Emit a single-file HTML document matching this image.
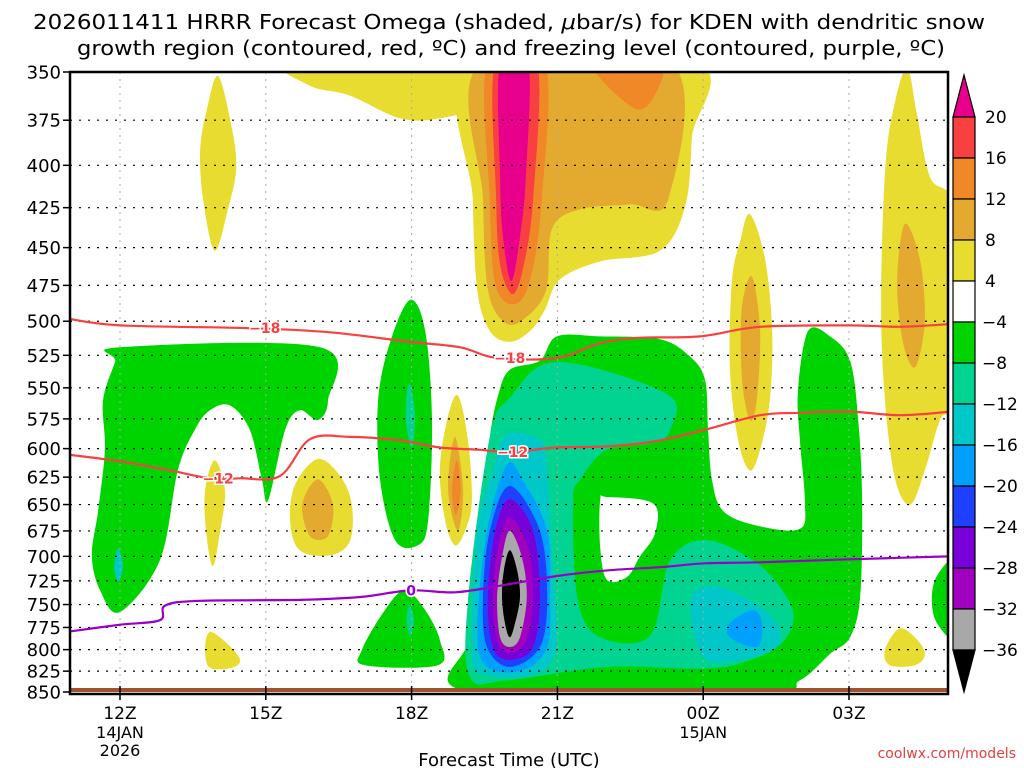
<!DOCTYPE html>
<html><head><meta charset="utf-8"><style>
html,body{margin:0;padding:0;background:#fff;}
svg{display:block;font-family:"DejaVu Sans","Liberation Sans",sans-serif;}
</style></head><body>
<svg id="chart" width="1024" height="768" viewBox="0 0 1024 768">
<text x="509" y="29" text-anchor="middle" font-size="20" textLength="952" lengthAdjust="spacingAndGlyphs">2026011411 HRRR Forecast Omega (shaded, <tspan font-style="italic">μ</tspan>bar/s) for KDEN with dendritic snow</text>
<text x="511" y="55" text-anchor="middle" font-size="20" textLength="868" lengthAdjust="spacingAndGlyphs">growth region (contoured, red, ºC) and freezing level (contoured, purple, ºC)</text>
<defs><clipPath id="plotclip"><rect x="70" y="72" width="878" height="620"/></clipPath></defs>
<g id="fills" clip-path="url(#plotclip)"></g>
<g id="grid"></g>
<g id="lines" clip-path="url(#plotclip)"></g>
<g id="axes"></g>
<g id="cbar"></g>
<text x="509" y="766" text-anchor="middle" font-size="18">Forecast Time (UTC)</text>
<text x="1016" y="758" text-anchor="end" font-size="14" fill="#e04040">coolwx.com/models</text>
</svg>
<script>
// ---- data (hour since 00Z 14JAN, pressure hPa) ----
const yTicks = [350,375,400,425,450,475,500,525,550,575,600,625,650,675,700,725,750,775,800,825,850];
const xTickHours = [12,15,18,21,24,27];
const xTickLabels = ["12Z","15Z","18Z","21Z","00Z","03Z"];
const xTickSub = {12:["14JAN","2026"],24:["15JAN"]};
const cbarLevels = [20,16,12,8,4,-4,-8,-12,-16,-20,-24,-28,-32,-36];
const cbarColors = ["#e8008c","#f84040","#f08828","#e4aa30","#e8dc30","#ffffff","#00d400","#00d490","#00c8c8","#00a0ff","#2040ff","#7800d8","#a000c0","#a8a8a8","#000000"];

const yel1 = [[14.02,352],[14.30,379],[14.39,402],[14.22,426],[13.95,452],[13.71,420],[13.65,391],[13.79,369]];
const yel2 = [[15.5,345],[19.3,345],[19.24,367],[18.58,374],[17.76,374],[16.73,362],[15.91,357]];
const yel3 = [[19.24,345],[23.83,345],[23.77,384],[23.63,424],[23.11,452],[21.88,459],[21.05,471],[20.74,492],[20.44,507],[20.02,515],[19.61,507],[19.35,478],[19.26,420]];
const yel4 = [[13.95,610],[14.16,637],[14.06,675],[13.91,710],[13.77,675],[13.75,637]];
const yel5 = [[16.07,609],[16.53,624],[16.77,650],[16.73,685],[16.32,699],[15.70,694],[15.50,666],[15.60,632]];
const yel6 = [[18.95,556],[19.16,593],[19.24,646],[19.10,675],[18.89,689],[18.69,665],[18.58,619],[18.73,576]];
const yel7 = [[24.96,429],[25.27,457],[25.42,507],[25.37,560],[25.17,601],[24.96,619],[24.72,593],[24.55,536],[24.59,472],[24.76,446]];
const yel8 = [[28.2,348],[28.4,372],[28.67,407],[29.2,429],[29.2,552],[28.87,576],[28.56,619],[28.26,650],[27.95,627],[27.74,560],[27.66,485],[27.75,400],[27.95,365]];
const yel9 = [[13.85,780],[14.22,794],[14.47,812],[14.30,821],[13.85,821],[13.75,800]];
const yel10 = [[28.05,776],[28.42,790],[28.56,806],[28.36,818],[27.84,818],[27.74,800]];
const lor1 = [[19.45,345],[23.32,345],[23.28,420],[22.49,423],[21.47,426],[20.89,438],[20.77,478],[20.33,498],[19.92,501],[19.57,478],[19.47,420]];
const lor2 = [[16.07,627],[16.38,650],[16.28,680],[15.91,680],[15.75,650]];
const lor3 = [[18.89,590],[19.06,636],[18.95,675],[18.75,636]];
const lor4 = [[25.0,469],[25.17,507],[25.1,560],[24.96,576],[24.8,544],[24.79,492]];
const lor5 = [[28.15,435],[28.46,458],[28.56,500],[28.36,534],[28.11,515],[27.99,472]];
const org1 = [[21.71,345],[23.11,345],[22.95,364],[22.53,368]];
const org2 = [[19.57,345],[20.74,345],[20.68,420],[20.44,471],[20.11,488],[19.72,474],[19.61,420]];
const org3 = [[18.93,610],[19.01,637],[18.91,660],[18.83,637]];
const red1 = [[19.72,345],[20.58,345],[20.50,420],[20.29,464],[20.07,481],[19.82,461],[19.74,420]];
const mag1 = [[19.82,345],[20.40,345],[20.35,407],[20.23,443],[20.05,472],[19.88,443],[19.82,407]];
const grn1 = [[12.0,519],[16.12,519],[16.28,560],[16.07,576],[15.70,568],[15.40,584],[15.05,646],[14.92,627],[14.67,584],[14.26,564],[13.85,568],[13.54,584],[13.19,619],[12.82,704],[12.0,758],[11.59,735],[11.42,699],[11.55,656],[11.69,601],[11.65,560],[11.90,530]];
const grn2 = [[17.97,485],[18.28,507],[18.42,576],[18.34,665],[18.13,689],[17.66,684],[17.35,627],[17.31,560],[17.56,515]];
const grn3 = [[17.86,735],[18.28,756],[18.58,789],[18.54,818],[17.04,818],[16.98,800],[17.45,756]];
const grn4 = [[19.78,556],[20.02,536],[20.64,529],[20.99,511],[21.88,511],[23.11,513],[23.73,526],[24.04,544],[24.10,584],[24.18,627],[24.41,656],[25.11,670],[25.99,673],[26.09,646],[25.99,593],[25.95,552],[26.16,507],[26.61,511],[27.02,529],[27.19,576],[27.27,646],[27.23,741],[27.02,786],[26.61,805],[25.99,836],[25.17,850],[19.2,850],[19.16,789],[19.30,704],[19.51,636],[19.61,590]];
const grn5 = [[29.3,702],[28.77,724],[28.77,766],[29.3,789]];
const hole1 = [[21.88,646],[22.02,643],[22.97,649],[23.01,677],[22.70,700],[22.43,721],[22.02,724],[21.88,691]];
const teal1 = [[20.02,558],[20.99,530],[23.26,555],[23.32,584],[22.97,595],[22.02,601],[21.47,627],[21.32,648],[21.42,745],[21.88,786],[22.91,784],[23.32,704],[24.08,684],[25.11,707],[25.72,742],[25.85,770],[25.52,797],[24.76,816],[23.93,822],[22.02,820],[19.96,836],[19.20,832],[19.16,745],[19.61,590]];
const teal2 = [[17.97,547],[18.07,572],[18.01,599],[17.89,580],[17.89,558]];
const teal3 = [[17.95,750],[18.05,767],[17.97,785],[17.9,767]];
const cyan1 = [[19.96,588],[20.64,593],[20.79,619],[20.91,709],[20.99,778],[20.85,816],[20.29,832],[19.41,827],[19.24,797],[19.35,675],[19.67,619]];
const cyan2 = [[23.79,739],[24.28,731],[25.11,750],[25.52,772],[25.52,797],[24.76,812],[24.08,812],[23.79,778]];
const cyan3 = [[11.96,692],[12.06,710],[11.96,726],[11.88,710]];
const lblu1 = [[19.96,614],[20.29,628],[20.79,675],[20.85,742],[20.79,797],[20.29,824],[19.55,820],[19.35,778],[19.55,675]];
const lblu2 = [[24.55,770],[25.02,756],[25.21,770],[25.11,797],[24.55,786]];
const blue1 = [[20.02,633],[20.64,675],[20.79,742],[20.64,797],[20.02,820],[19.55,797],[19.47,742],[19.61,675]];
const purp1 = [[20.02,645],[20.50,675],[20.64,742],[20.50,797],[20.02,812],[19.67,797],[19.57,742],[19.72,675]];
const viol1 = [[20.02,662],[20.40,691],[20.50,742],[20.37,789],[20.02,804],[19.76,789],[19.67,742],[19.78,691]];
const gray1 = [[20.02,675],[20.27,701],[20.37,742],[20.23,786],[20.02,797],[19.82,786],[19.76,742],[19.86,701]];
const blk1 = [[20.02,694],[20.17,714],[20.23,742],[20.13,770],[20.02,786],[19.92,770],[19.86,742],[19.90,714]];

const line18 = [[10.9,498],[12,503],[14.67,505],[16.32,508],[17.97,515],[19.0,519],[19.76,527],[20.99,527],[21.88,516],[22.70,512],[23.93,511],[25.17,504],[27.02,503],[28.05,504],[29.1,502]];
const line12 = [[10.9,605],[12,611],[13.03,619],[13.85,626],[14.47,626],[15.29,624],[15.91,592],[16.73,590],[17.76,593],[18.58,599],[19.41,601],[20.02,603],[20.99,599],[22.08,598],[23.11,593],[24.04,584],[25.17,572],[25.99,570],[27.02,569],[28.05,572],[29.1,569]];
const line0 = [[10.9,780],[12,772],[12.82,767],[12.93,751],[13.65,746],[15.70,745],[16.94,742],[17.97,735],[18.89,737],[19.82,730],[20.99,720],[22.08,714],[23.11,711],[24.04,707],[25.17,706],[27.02,703],[29.1,700]];
const labels18 = [[14.98,505],[20.02,527]];
const labels12 = [[14.02,626],[20.08,603]];
const labels0 = [[17.99,735]];

// ---- scales ----
const X0=70,X1=948,Y0=72,Y1=692;
function xs(h){ return 120 + (h-12)*48.6; }
function ys(p){ return Y0 + (Y1-Y0)*Math.log(p/350)/Math.log(850/350); }
const NS="http://www.w3.org/2000/svg";
function mk(tag,attrs,parent){ const e=document.createElementNS(NS,tag); for(const k in attrs) e.setAttribute(k,attrs[k]); parent.appendChild(e); return e; }
function smooth(pts,closed){
  const P=pts.map(d=>[xs(d[0]),ys(d[1])]); const n=P.length;
  let s="M"+P[0][0].toFixed(1)+","+P[0][1].toFixed(1);
  const g=i=> closed? P[(i+n)%n] : P[Math.max(0,Math.min(n-1,i))];
  const last = closed? n : n-1;
  for(let i=0;i<last;i++){
    const p0=g(i-1),p1=g(i),p2=g(i+1),p3=g(i+2);
    const c1=[p1[0]+(p2[0]-p0[0])/6,p1[1]+(p2[1]-p0[1])/6];
    const c2=[p2[0]-(p3[0]-p1[0])/6,p2[1]-(p3[1]-p1[1])/6];
    s+="C"+c1[0].toFixed(1)+","+c1[1].toFixed(1)+" "+c2[0].toFixed(1)+","+c2[1].toFixed(1)+" "+p2[0].toFixed(1)+","+p2[1].toFixed(1);
  }
  return s+(closed?"Z":"");
}
const fills=document.getElementById('fills');
const layers=[
 [yel1,"#e8dc30","yellow-region"],[yel2,"#e8dc30","yellow-region"],[yel3,"#e8dc30","yellow-region"],[yel4,"#e8dc30","yellow-region"],[yel5,"#e8dc30","yellow-region"],[yel6,"#e8dc30","yellow-region"],[yel7,"#e8dc30","yellow-region"],[yel8,"#e8dc30","yellow-region"],[yel9,"#e8dc30","yellow-region"],[yel10,"#e8dc30","yellow-region"],
 [lor1,"#e4aa30","light-orange-region"],[lor2,"#e4aa30","light-orange-region"],[lor3,"#e4aa30","light-orange-region"],[lor4,"#e4aa30","light-orange-region"],[lor5,"#e4aa30","light-orange-region"],
 [org1,"#f08828","orange-region"],[org2,"#f08828","orange-region"],[org3,"#f08828","orange-region"],
 [red1,"#f84040","red-region"],[mag1,"#e8008c","magenta-region"],
 [grn1,"#00d400","green-region"],[grn2,"#00d400","green-region"],[grn3,"#00d400","green-region"],[grn4,"#00d400","green-region"],[grn5,"#00d400","green-region"],
 [hole1,"#ffffff","white-hole"],
 [teal1,"#00d490","teal-region"],[teal2,"#00d490","teal-region"],[teal3,"#00d490","teal-region"],
 [cyan1,"#00c8c8","cyan-region"],[cyan2,"#00c8c8","cyan-region"],[cyan3,"#00c8c8","cyan-region"],
 [lblu1,"#00a0ff","light-blue-region"],[lblu2,"#00a0ff","light-blue-region"],
 [blue1,"#2040ff","blue-region"],[purp1,"#7800d8","purple-region"],[viol1,"#a000c0","violet-region"],[gray1,"#a8a8a8","gray-region"],[blk1,"#000000","black-region"]
];
layers.forEach(L=>{
  const e=mk('path',{d:smooth(L[0],true),fill:L[1]},fills);
  
  
});
// ground
const gr=mk('rect',{x:X0,y:688,width:X1-X0,height:6,fill:"#a0522d"},fills);



// grid
const grid=document.getElementById('grid');
yTicks.forEach(p=>{
  const y=ys(p);
  if(p>350 && p<850){ const l=mk('line',{x1:X0,x2:X1,y1:y,y2:y,stroke:"#000","stroke-width":1.2,"stroke-dasharray":"2,7"},grid);
  
   }
});
xTickHours.forEach(h=>{
  const l=mk('line',{x1:xs(h),x2:xs(h),y1:Y0,y2:Y1,stroke:"#aaa","stroke-width":1,"stroke-dasharray":"2,5"},grid);
  
  
});

// contour lines
const lines=document.getElementById('lines');
[[line18,"#f84040","dgz-minus18-line"],[line12,"#f84040","dgz-minus12-line"],[line0,"#9a00c8","freezing-level-line"]].forEach(L=>{
  const e=mk('path',{d:smooth(L[0],false),fill:"none",stroke:L[1],"stroke-width":2.2},lines);
  
  
});
function lbl(arr,txt,col){ arr.forEach(d=>{
  const t=mk('text',{x:xs(d[0]),y:ys(d[1])+5,"text-anchor":"middle","font-size":14,"font-weight":"bold",fill:col,stroke:"#fff","stroke-width":3,"paint-order":"stroke"},lines);
  t.textContent=txt;
  
  
});}
lbl(labels18,"−18","#f84040"); lbl(labels12,"−12","#f84040"); lbl(labels0,"0","#9a00c8");

// axes
const axes=document.getElementById('axes');
const fr=mk('rect',{x:X0,y:Y0,width:X1-X0,height:Y1-Y0+2,fill:"none",stroke:"#000","stroke-width":2.5},axes);


yTicks.forEach(p=>{
  const y=ys(p);
  const tk=mk('line',{x1:63,x2:X0,y1:y,y2:y,stroke:"#000","stroke-width":1.5},axes);
  
  
  const t=mk('text',{x:61,y:y+6.5,"text-anchor":"end","font-size":18},axes);
  t.textContent=p;
  
  
});
xTickHours.forEach((h,i)=>{
  const x=xs(h);
  const tk=mk('line',{x1:x,x2:x,y1:Y1-6,y2:Y1+8,stroke:"#000","stroke-width":1.5},axes);
  
  
  const t=mk('text',{x:x,y:719,"text-anchor":"middle","font-size":17},axes);
  t.textContent=xTickLabels[i];
  
  
  (xTickSub[h]||[]).forEach((s,j)=>{
    const u=mk('text',{x:x,y:738+j*18,"text-anchor":"middle","font-size":16},axes);
    u.textContent=s;
    
    
  });
});

// colorbar
const cb=document.getElementById('cbar');
const CX=953,CW=22,top0=117,step=41;
const tri=mk('polygon',{points:`${CX},${top0} ${CX+CW},${top0} ${CX+CW/2},75`,fill:cbarColors[0],stroke:"#000","stroke-width":1.2},cb);


for(let i=0;i<cbarLevels.length-1;i++){
  const r=mk('rect',{x:CX,y:top0+i*step,width:CW,height:step,fill:cbarColors[i+1],stroke:"#000","stroke-width":1.2},cb);
  
  
}
const yb=top0+(cbarLevels.length-1)*step;
const tri2=mk('polygon',{points:`${CX},${yb} ${CX+CW},${yb} ${CX+CW/2},692`,fill:cbarColors[cbarColors.length-1],stroke:"#000","stroke-width":1.2},cb);


cbarLevels.forEach((v,i)=>{
  const t=mk('text',{x:v<0?982:985,y:top0+i*step+6,"font-size":17},cb);
  t.textContent=(v<0?"−"+(-v):String(v));
  
  
});
</script>
</body></html>
